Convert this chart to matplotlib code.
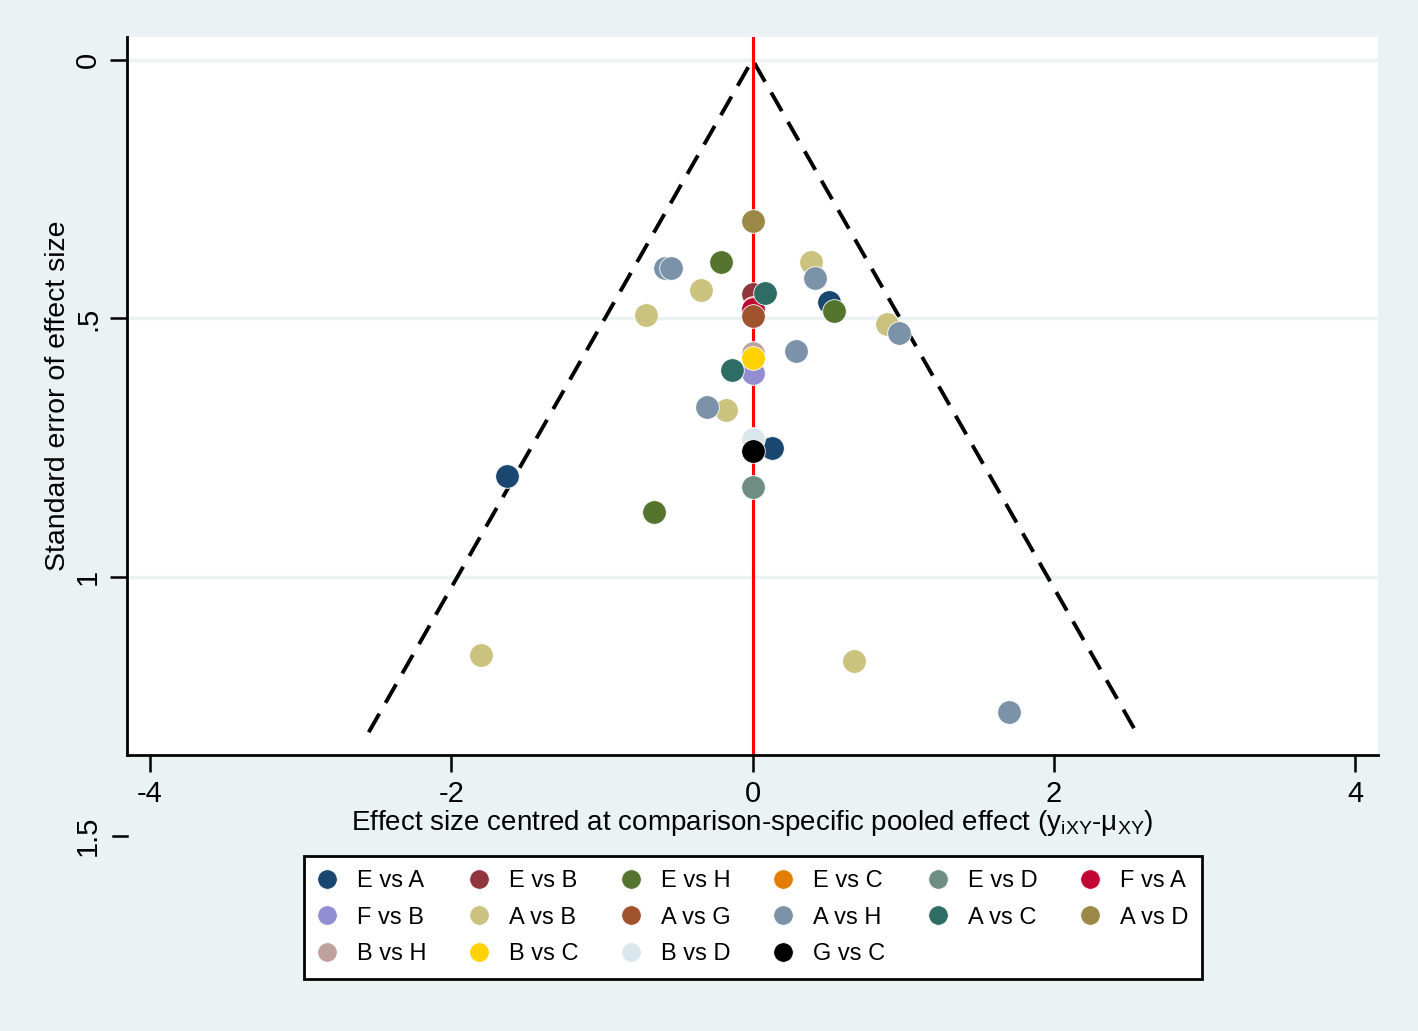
import matplotlib.pyplot as plt
from matplotlib.lines import Line2D

# comparison-adjusted funnel plot data (x = centred effect, y = standard error)
comparisons = ['E vs A', 'E vs B', 'E vs H', 'E vs C', 'E vs D', 'F vs A',
               'F vs B', 'A vs B', 'A vs G', 'A vs H', 'A vs C', 'A vs D',
               'B vs H', 'B vs C', 'B vs D', 'G vs C']
colors = ['#1a476f', '#90353b', '#55752f', '#e37e00', '#6e8e84', '#c10534',
          '#938dd2', '#cac27e', '#a0522d', '#7b92a8', '#2d6d66', '#9c8847',
          '#bfa19c', '#ffd200', '#d9e6eb', '#000000']

effects = {
    'E vs A': [0.51, 0.13, -1.627],
    'E vs B': [0.0],
    'E vs H': [-0.212, 0.54, -0.657],
    'E vs C': [0.0],
    'E vs D': [0.0],
    'F vs A': [0.0],
    'F vs B': [0.0],
    'A vs B': [0.39, -0.345, -0.704, 0.896, -0.173, -1.80, 0.677],
    'A vs G': [0.0],
    'A vs H': [-0.578, -0.544, 0.418, 0.976, 0.292, -0.30, 1.70],
    'A vs C': [0.08, -0.133],
    'A vs D': [0.0],
    'B vs H': [0.005],
    'B vs C': [0.0],
    'B vs D': [0.0],
    'G vs C': [0.0],
}
std_errors = {
    'E vs A': [0.468, 0.750, 0.805],
    'E vs B': [0.453],
    'E vs H': [0.391, 0.486, 0.874],
    'E vs C': [0.480],
    'E vs D': [0.826],
    'F vs A': [0.482],
    'F vs B': [0.605],
    'A vs B': [0.391, 0.445, 0.493, 0.511, 0.677, 1.151, 1.162],
    'A vs G': [0.495],
    'A vs H': [0.402, 0.402, 0.421, 0.528, 0.563, 0.671, 1.261],
    'A vs C': [0.451, 0.600],
    'A vs D': [0.311],
    'B vs H': [0.567],
    'B vs C': [0.576],
    'B vs D': [0.733],
    'G vs C': [0.756],
}

max_se = 1.30
bg = '#eaf2f3'
plt.rcParams['font.family'] = ['Liberation Sans', 'DejaVu Sans']
plt.rcParams['axes.unicode_minus'] = False

fig = plt.figure(figsize=(14.18, 10.31), dpi=100, facecolor=bg)
ax = fig.add_axes([127/1418, 276/1031, 1251/1418, 718/1031])
ax.set_facecolor('white')

# gridlines
for g in [0, 0.5, 1]:
    ax.axhline(g, color=bg, lw=2.5, zorder=0)

# pseudo 95% confidence limits
ax.plot([-1.96*max_se, 0, 1.96*max_se], [max_se, 0, max_se], color='black',
        lw=2.8, ls=(0, (5.5, 3.2)), zorder=1)
ax.axvline(0, color='#ff0000', lw=2.2, zorder=1)

for c, col in zip(comparisons, colors):
    ax.scatter(effects[c], std_errors[c], s=290, color=col, edgecolor='white',
               linewidth=0.6, zorder=3)

ax.set_xlim(-4.153, 4.153)
ax.set_ylim(1.344, -0.044)
ax.set_xticks([-4, -2, 0, 2, 4])
ax.set_yticks([0, 0.5, 1])
ax.set_yticklabels(['0', '.5', '1'], rotation=90, va='center')
for lab in ax.get_xticklabels() + ax.get_yticklabels():
    lab.set_fontsize(21)
ax.tick_params(length=12, width=1.8, color='black', pad=6)

for s in ['top', 'right']:
    ax.spines[s].set_visible(False)
for s in ['left', 'bottom']:
    ax.spines[s].set_linewidth(2)

# extra 1.5 tick below the plot region
tr = ax.get_yaxis_transform()
ax.plot([-14/1251, 0], [1.5, 1.5], color='black', lw=1.8, transform=tr, clip_on=False)
ax.text(-(127-88)/1251, 1.5, '1.5', rotation=90, ha='center', va='center',
        fontsize=21, transform=tr, clip_on=False)

ax.set_ylabel('Standard error of effect size', fontsize=20.5, labelpad=2)
ax.set_xlabel('Effect size centred at comparison-specific pooled effect '
              r'($\mathregular{y_{iXY}}$-$\mathregular{\mu_{XY}}$)',
              fontsize=20, labelpad=0)

# legend filled row by row
order = [k + 6*r for k in range(6) for r in range(3) if k + 6*r < len(comparisons)]
handles = [Line2D([], [], ls='none', marker='o', markersize=14, color=colors[i],
                  markeredgecolor='white', markeredgewidth=0.5) for i in order]
labels = [comparisons[i] for i in order]
leg = fig.legend(handles, labels, ncol=6, loc='center',
                 bbox_to_anchor=(292/1418, 51/1031, 922/1418, 125/1031),
                 mode='expand', frameon=True, fancybox=False, borderpad=0.6,
                 handlelength=0.8, handletextpad=0.85, labelspacing=0.62,
                 columnspacing=1.0, prop={'size': 17})
leg.get_frame().set_edgecolor('black')
leg.get_frame().set_facecolor('white')
leg.get_frame().set_alpha(1)
leg.get_frame().set_linewidth(2)

fig.savefig('out.png', dpi=100, facecolor=bg)
